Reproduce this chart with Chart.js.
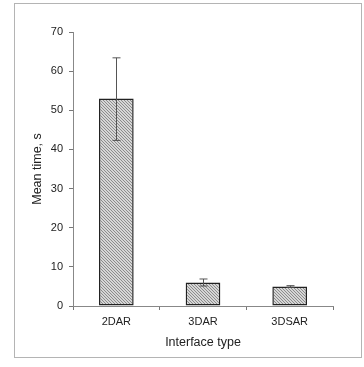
<!DOCTYPE html>
<html>
<head>
<meta charset="utf-8">
<script src="https://cdn.jsdelivr.net/npm/chart.js@4"></script>
<style>
  body { margin: 0; background: #fff; }
  #frame { position: absolute; left: 14px; top: 3px; width: 346px; height: 353px; border: 1px solid #b4b4b4; }
  #wrap { position: absolute; left: 0; top: 0; width: 364px; height: 367px; }
</style>
</head>
<body>
<div id="frame"></div>
<div id="wrap"><canvas id="chart"></canvas></div>
<script>
// interface types and mean completion times
var categories = ["2DAR", "3DAR", "3DSAR"];
var meanTimes = [53, 6, 5];
var errUpper = [63.4, 6.9, 5.2];
var errLower = [42.3, 5.1, 4.8];

// fine diagonal hatch fill, like the printed figure
function makeHatch() {
    var c = document.createElement("canvas");
    c.width = 3;
    c.height = 3;
    var g = c.getContext("2d");
    g.fillStyle = "#d6d6d6";
    g.fillRect(0, 0, 3, 3);
    g.fillStyle = "#8c8c8c";
    g.fillRect(0, 0, 1, 1);
    g.fillRect(1, 1, 1, 1);
    g.fillRect(2, 2, 1, 1);
    return g.createPattern(c, "repeat");
}

var errorBars = {
    id: "errorBars",
    afterDatasetsDraw: function(chart) {
        var ctx = chart.ctx;
        var meta = chart.getDatasetMeta(0);
        var y = chart.scales.y;
        ctx.save();
        ctx.strokeStyle = "#555";
        ctx.lineWidth = 1;
        meta.data.forEach(function(bar, i) {
            var x = Math.round(bar.x) + 0.5;
            var top = y.getPixelForValue(errUpper[i]);
            var bot = y.getPixelForValue(errLower[i]);
            ctx.beginPath();
            ctx.moveTo(x, top); ctx.lineTo(x, bot);
            ctx.moveTo(x - 4, top); ctx.lineTo(x + 4, top);
            ctx.moveTo(x - 4, bot); ctx.lineTo(x + 4, bot);
            ctx.stroke();
        });
        ctx.restore();
    }
};

var font = { family: "'Liberation Sans', Arial, sans-serif", size: 11 };
var titleFont = { family: "'Liberation Sans', Arial, sans-serif", size: 12.5 };

new Chart(document.getElementById("chart").getContext("2d"), {
    type: "bar",
    data: {
        labels: categories,
        datasets: [{
            data: meanTimes,
            backgroundColor: makeHatch(),
            borderColor: "#222",
            borderWidth: 1.5,
            borderSkipped: false,
            barPercentage: 0.4,
            categoryPercentage: 1
        }]
    },
    options: {
        responsive: true,
        maintainAspectRatio: false,
        animation: false,
        layout: { padding: { top: 32, right: 31, bottom: 0, left: 0 } },
        plugins: { legend: { display: false }, tooltip: { enabled: false } },
        scales: {
            x: {
                afterFit: function(s) { s.height = 61; },
                grid: { offset: true, drawOnChartArea: false, tickLength: 4, color: "#777" },
                border: { color: "#888" },
                ticks: { color: "#222", font: font, padding: 5 },
                title: { display: true, text: "Interface type", color: "#222", font: titleFont, padding: { bottom: 17 } }
            },
            y: {
                min: 0,
                max: 70,
                afterFit: function(s) { s.width = 73; },
                grid: { drawOnChartArea: false, tickLength: 4, color: "#777" },
                border: { color: "#888" },
                ticks: { stepSize: 10, color: "#222", font: font, padding: 6 },
                title: { display: true, text: "Mean time, s", color: "#222", font: titleFont, padding: { top: 30 } }
            }
        }
    },
    plugins: [errorBars]
});
</script>
</body>
</html>
